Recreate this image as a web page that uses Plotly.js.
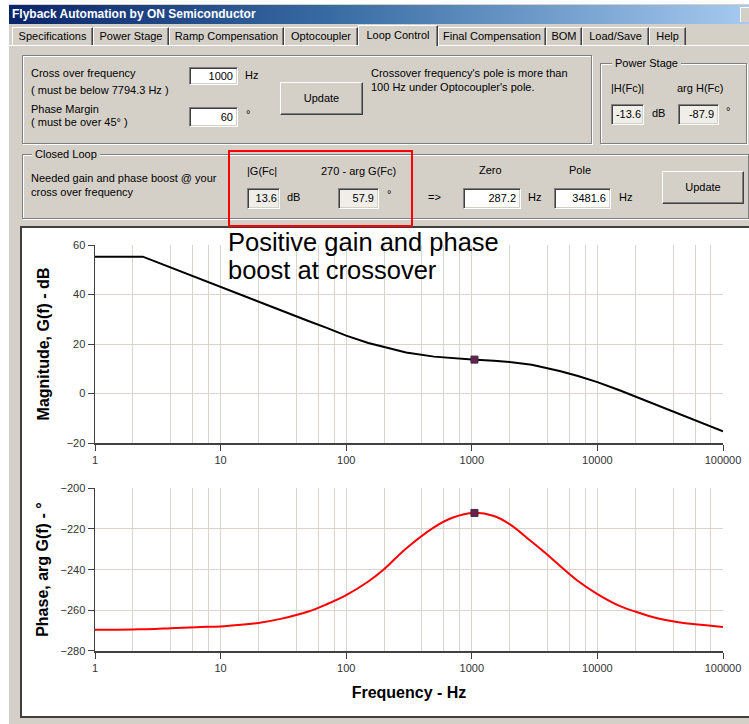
<!DOCTYPE html>
<html>
<head>
<meta charset="utf-8">
<script src="https://cdn.plot.ly/plotly-3.0.1.min.js"></script>
<style>
  html, body { margin:0; padding:0; width:749px; height:724px; overflow:hidden; background:#ffffff; }
  * { box-sizing:border-box; }
  #win { position:absolute; left:9px; top:4px; width:740px; height:720px; background:#d4d0c8; }
  .abs { position:absolute; }
  .t { position:absolute; font-family:"Liberation Sans", Arial, sans-serif; font-size:11px; line-height:14px; height:14px; color:#000; white-space:nowrap; }
  #titlebar { position:absolute; left:9px; top:5px; width:740px; height:19px;
    background:linear-gradient(to right, #0a246a 0%, #3a6ea5 45%, #a6caf0 100%); }
  #titletext { position:absolute; left:12px; top:7px; font-family:"Liberation Sans", Arial, sans-serif; font-weight:bold; font-size:12px; line-height:14px; color:#fff; white-space:nowrap; }
  .tab { position:absolute; top:27px; height:18px; border-top:1px solid #fff; border-left:1px solid #fff; border-right:1px solid #404040; box-shadow: inset -1px 0 0 #808080;
    font-family:"Liberation Sans", Arial, sans-serif; font-size:11px; line-height:16px; text-align:center; color:#000; white-space:nowrap; background:#d4d0c8; }
  .tab.active { top:25px; height:21px; z-index:2; line-height:18px; }
  .edit { position:absolute; background:#fff; border-top:1px solid #808080; border-left:1px solid #808080; border-bottom:1px solid #fff; border-right:1px solid #fff;
    box-shadow: inset 1px 1px 0 #404040, inset -1px -1px 0 #d4d0c8; font-family:"Liberation Sans", Arial, sans-serif; font-size:11px; text-align:right; padding-right:4px; color:#000; }
  .ro { background:#efeee9; }
  .btn { position:absolute; border-top:1px solid #fff; border-left:1px solid #fff; border-bottom:1px solid #404040; border-right:1px solid #404040;
    box-shadow: inset -1px -1px 0 #808080; background:#d4d0c8; font-family:"Liberation Sans", Arial, sans-serif; font-size:11px; text-align:center; color:#000; }
  .grp { position:absolute; border:1px solid #808080; box-shadow: 1px 1px 0 #fff, inset 1px 1px 0 #fff; }
  .glabel { position:absolute; background:#d4d0c8; padding:0 3px; font-family:"Liberation Sans", Arial, sans-serif; font-size:11px; line-height:14px; white-space:nowrap; }
  #chartframe { position:absolute; left:20px; top:226px; width:729px; height:492px; border-left:2px solid #404040; border-top:2px solid #404040; border-bottom:2px solid #404040; background:#fff; }
  #chart { position:absolute; left:22px; top:228px; width:727px; height:488px; }
  #redbox { position:absolute; left:228px; top:150px; width:185px; height:77px; border:2px solid #ff0000; z-index:5; }
</style>
</head>
<body>
<div id="win"></div>
<div id="titlebar"></div>
<div id="titletext">Flyback Automation by ON Semiconductor</div>
<div class="abs" style="left:740px;top:7px;width:9px;height:15px;background:#d4d0c8;border-top:1px solid #fff;border-left:1px solid #fff;"></div>

<div class="abs" style="left:9px;top:45px;width:740px;height:1px;background:#fff;"></div>
<div class="tab" style="left:12px;width:81px;">Specifications</div>
<div class="tab" style="left:93px;width:76px;">Power Stage</div>
<div class="tab" style="left:169px;width:115px;">Ramp Compensation</div>
<div class="tab" style="left:284px;width:74px;">Optocoupler</div>
<div class="tab active" style="left:358px;width:80px;">Loop Control</div>
<div class="tab" style="left:438px;width:108px;">Final Compensation</div>
<div class="tab" style="left:546px;width:36px;">BOM</div>
<div class="tab" style="left:582px;width:67px;">Load/Save</div>
<div class="tab" style="left:649px;width:37px;">Help</div>

<!-- top panel -->
<div class="grp" style="left:22px;top:55px;width:570px;height:89px;"></div>
<div class="t" style="left:31px;top:66px;">Cross over frequency</div>
<div class="t" style="left:31px;top:83px;">( must be below 7794.3 Hz )</div>
<div class="t" style="left:31px;top:102px;">Phase Margin</div>
<div class="t" style="left:31px;top:115px;">( must be over 45° )</div>
<div class="edit" style="left:189px;top:67px;width:49px;height:18px;line-height:16px;">1000</div>
<div class="t" style="left:245px;top:68px;">Hz</div>
<div class="edit" style="left:189px;top:107px;width:49px;height:20px;line-height:18px;">60</div>
<div class="t" style="left:246px;top:107px;">°</div>
<div class="btn" style="left:280px;top:82px;width:83px;height:33px;line-height:30px;">Update</div>
<div class="t" style="left:371px;top:66px;">Crossover frequency's pole is more than</div>
<div class="t" style="left:371px;top:80px;">100 Hz under Optocoupler's pole.</div>

<!-- power stage group -->
<div class="grp" style="left:600px;top:63px;width:147px;height:81px;"></div>
<div class="glabel" style="left:612px;top:56px;">Power Stage</div>
<div class="t" style="left:611px;top:81px;">|H(Fc)|</div>
<div class="t" style="left:677px;top:81px;">arg H(Fc)</div>
<div class="edit ro" style="left:611px;top:104px;width:33px;height:21px;line-height:19px;padding-right:2px;">-13.6</div>
<div class="t" style="left:652px;top:106px;">dB</div>
<div class="edit ro" style="left:678px;top:104px;width:41px;height:21px;line-height:19px;">-87.9</div>
<div class="t" style="left:726px;top:104px;">°</div>

<!-- closed loop group -->
<div class="grp" style="left:22px;top:154px;width:727px;height:65px;"></div>
<div class="glabel" style="left:32px;top:147px;">Closed Loop</div>
<div class="t" style="left:31px;top:171px;">Needed gain and phase boost @ your</div>
<div class="t" style="left:31px;top:185px;">cross over frequency</div>
<div class="t" style="left:247px;top:164px;">|G(Fc|</div>
<div class="t" style="left:321px;top:164px;">270 - arg G(Fc)</div>
<div class="edit ro" style="left:247px;top:188px;width:33px;height:21px;line-height:19px;padding-right:2px;">13.6</div>
<div class="t" style="left:287px;top:190px;">dB</div>
<div class="edit ro" style="left:338px;top:188px;width:41px;height:21px;line-height:19px;">57.9</div>
<div class="t" style="left:387px;top:187px;">°</div>
<div class="t" style="left:428px;top:190px;">=&gt;</div>
<div class="t" style="left:479px;top:163px;">Zero</div>
<div class="edit" style="left:463px;top:188px;width:58px;height:21px;line-height:19px;">287.2</div>
<div class="t" style="left:528px;top:190px;">Hz</div>
<div class="t" style="left:569px;top:163px;">Pole</div>
<div class="edit" style="left:554px;top:188px;width:57px;height:21px;line-height:19px;">3481.6</div>
<div class="t" style="left:619px;top:190px;">Hz</div>
<div class="btn" style="left:662px;top:171px;width:82px;height:33px;line-height:30px;">Update</div>

<div id="chartframe"></div>
<div id="chart"></div>
<div id="redbox"></div>

<script>
// ---- data ----
const freqHz = [1, 1.5, 2, 2.4, 3, 4, 5, 7, 10, 15, 20, 30, 50, 70, 100, 150, 200, 300, 500, 700,
  1000, 1500, 2000, 3000, 4000, 5000, 7000, 10000, 15000, 20000, 30000, 50000, 70000, 100000];
const magnitudeDb = [55.3, 55.3, 55.3, 55.3, 53.4, 50.9, 49.0, 46.1, 43.2, 39.7, 37.0, 33.5, 29.3, 26.5,
  23.4, 20.4, 18.7, 16.6, 14.9, 14.2, 13.7, 13.2, 12.7, 11.6, 10.3, 9.1, 7.1, 4.6, 1.3, -1.2, -4.8, -9.3, -12.2, -15.3];
const phaseDeg = [-269.6, -269.5, -269.4, -269.3, -269.2, -268.8, -268.6, -268.2, -267.9, -267.0, -266.2,
  -264.2, -260.6, -257.0, -252.5, -245.8, -239.8, -229.6, -219.2, -214.5, -212.1, -213.6, -217.6,
  -226.3, -232.7, -238.0, -245.6, -252.0, -257.8, -260.6, -263.9, -266.3, -267.2, -268.2];
const crossoverHz = [1050];
const crossoverMagDb = [13.7];
const crossoverPhaseDeg = [-212.1];
const decadeTicks = [1, 10, 100, 1000, 10000, 100000];
const decadeLabels = ['1', '10', '100', '1000', '10000', '100000'];
const minorMultipliers = [2, 4, 6, 8];
const annotationLines = ['Positive gain and phase', 'boost at crossover'];

const minorGrid = [];
decadeTicks.slice(0, -1).forEach(d => minorMultipliers.forEach(m => minorGrid.push(d * m)));

const gridColor = '#d9d5ce';
const axisColor = '#404040';
const tickFont = {family: 'Liberation Sans, Arial, sans-serif', size: 11, color: '#333'};
const titleFont = {family: 'Liberation Sans, Arial, sans-serif', size: 16, color: '#000', weight: 'bold'};

function xAxis(anchor, withTitle) {
  const ax = {
    type: 'log', range: [0, 5], anchor: anchor,
    tickmode: 'array', tickvals: decadeTicks, ticktext: decadeLabels,
    showline: true, linecolor: axisColor, linewidth: 1.5,
    ticks: 'outside', ticklen: 6, tickcolor: axisColor, tickwidth: 1,
    showgrid: true, gridcolor: gridColor, gridwidth: 1,
    zeroline: false, tickfont: tickFont, fixedrange: true
  };
  if (withTitle) ax.title = {text: 'Frequency - Hz', font: titleFont, standoff: 14};
  return ax;
}
function gridAxis(over, anchor) {
  return {
    type: 'log', range: [0, 5], overlaying: over, anchor: anchor,
    tickmode: 'array', tickvals: minorGrid, showticklabels: false, ticks: '',
    showgrid: true, gridcolor: gridColor, gridwidth: 1, showline: false, zeroline: false, fixedrange: true
  };
}
function yAxis(range, domain, title, standoff) {
  return {
    range: range, domain: domain, tick0: range[0], dtick: 20,
    showline: true, linecolor: axisColor, linewidth: 1.5,
    ticks: 'outside', ticklen: 6, tickcolor: axisColor,
    showgrid: true, gridcolor: gridColor, gridwidth: 1, zeroline: false,
    tickfont: tickFont, title: {text: title, font: titleFont, standoff: standoff}, fixedrange: true
  };
}

const traces = [
  {x: [], y: [], xaxis: 'x3', yaxis: 'y', mode: 'lines', hoverinfo: 'skip'},
  {x: [], y: [], xaxis: 'x4', yaxis: 'y2', mode: 'lines', hoverinfo: 'skip'},
  {x: freqHz, y: magnitudeDb, xaxis: 'x', yaxis: 'y', mode: 'lines', line: {color: '#000000', width: 2}, hoverinfo: 'skip'},
  {x: crossoverHz, y: crossoverMagDb, xaxis: 'x', yaxis: 'y', mode: 'markers',
    marker: {symbol: 'square', size: 7, color: '#6b1f52', line: {color: '#333', width: 1}}},
  {x: freqHz, y: phaseDeg, xaxis: 'x2', yaxis: 'y2', mode: 'lines', line: {color: '#ff0000', width: 2, shape: 'spline', smoothing: 1}, hoverinfo: 'skip'},
  {x: crossoverHz, y: crossoverPhaseDeg, xaxis: 'x2', yaxis: 'y2', mode: 'markers',
    marker: {symbol: 'square', size: 7, color: '#6b1f52', line: {color: '#333', width: 1}}}
];

const annFont = {family: 'Liberation Sans, Arial, sans-serif', size: 25.5, color: '#000'};
const layout = {
  width: 727, height: 488,
  margin: {l: 73, r: 26, t: 17, b: 65},
  paper_bgcolor: '#ffffff', plot_bgcolor: '#ffffff',
  showlegend: false,
  xaxis: xAxis('y', false),
  yaxis: yAxis([-20, 60], [0.5123, 1], 'Magnitude, G(f) - dB', 13),
  xaxis2: xAxis('y2', true),
  yaxis2: yAxis([-280, -200], [0, 0.4007], 'Phase, arg G(f) - °', 8),
  xaxis3: gridAxis('x', 'y'),
  xaxis4: gridAxis('x2', 'y2'),
  annotations: [
    {text: annotationLines[0], xref: 'paper', yref: 'paper', x: 0.209, y: 1.0062, xanchor: 'left', yanchor: 'middle', showarrow: false, font: annFont},
    {text: annotationLines[1], xref: 'paper', yref: 'paper', x: 0.209, y: 0.9394, xanchor: 'left', yanchor: 'middle', showarrow: false, font: annFont}
  ]
};

Plotly.newPlot('chart', traces, layout, {staticPlot: true, displayModeBar: false});
</script>
</body>
</html>
